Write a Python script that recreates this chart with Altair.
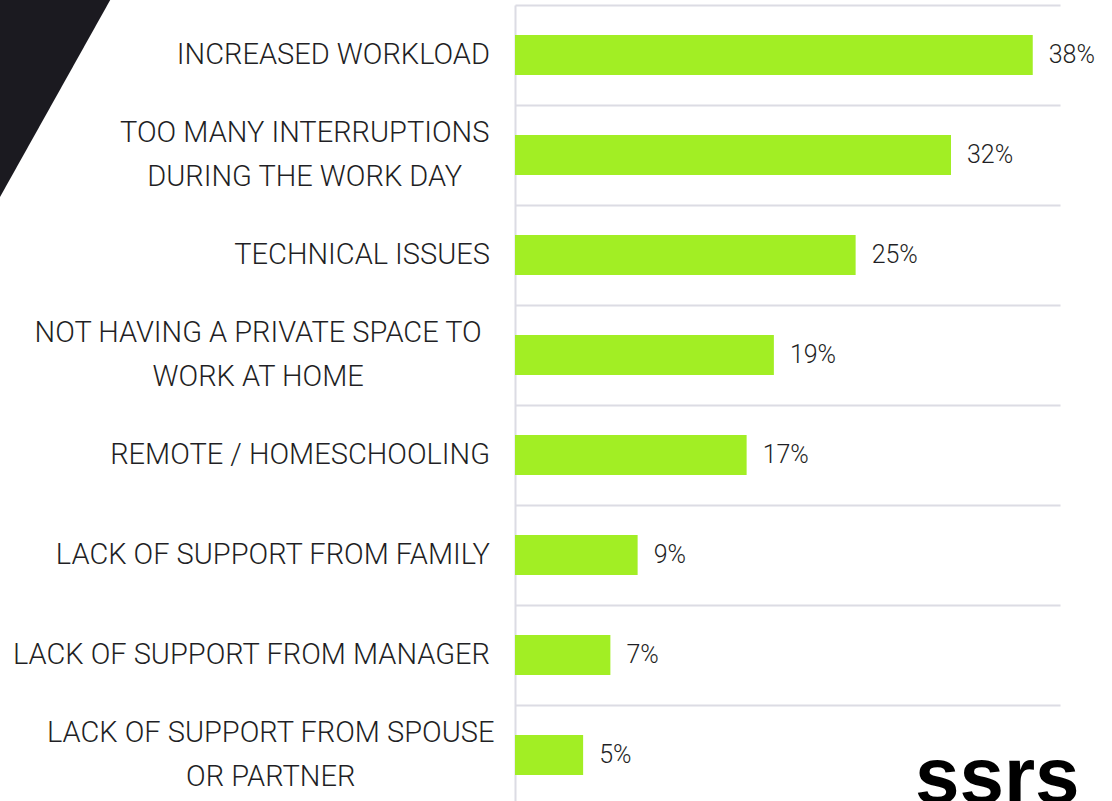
import altair as alt
import pandas as pd

categories = [
    "INCREASED WORKLOAD",
    "TOO MANY INTERRUPTIONS|DURING THE WORK DAY",
    "TECHNICAL ISSUES",
    "NOT HAVING A PRIVATE SPACE TO|WORK AT HOME",
    "REMOTE / HOMESCHOOLING",
    "LACK OF SUPPORT FROM FAMILY",
    "LACK OF SUPPORT FROM MANAGER",
    "LACK OF SUPPORT FROM SPOUSE|OR PARTNER",
]
values = [38, 32, 25, 19, 17, 9, 7, 5]

BAR = "#a2ee24"
TEXT = "#1f1f25"
GRID = "#dcdce4"
FONT = "Roboto"

df = pd.DataFrame({"cat": categories, "value": values})

Y = alt.Y(
    "cat:N",
    sort=categories,
    scale=alt.Scale(paddingInner=0, paddingOuter=0),
    axis=alt.Axis(
        title=None, labels=False, ticks=False, grid=True, tickBand="extent",
        gridColor=GRID, gridWidth=2, domain=True, domainColor=GRID, domainWidth=2,
    ),
)
X = alt.X("value:Q", scale=alt.Scale(domain=[0, 40]), axis=None)

base = alt.Chart(df)

bars = base.mark_bar(color=BAR, height=40).encode(x=X, y=Y)

vals = base.transform_calculate(lbl="datum.value + '%'").mark_text(
    align="left", baseline="middle", dx=16, font=FONT, fontSize=25,
    fontWeight=300, color=TEXT,
).encode(x=X, y=Y, text="lbl:N")

single = base.transform_filter("indexof(datum.cat, '|') < 0").mark_text(
    align="right", baseline="middle", font=FONT, fontSize=29, fontWeight=300,
    color=TEXT,
).encode(y=Y, x=alt.value(-25), text="cat:N")

multi = base.transform_filter("indexof(datum.cat, '|') >= 0").transform_calculate(
    first="split(datum.cat, '|')[0]",
).transform_calculate(
    nsp="length(datum.first) - length(replace(datum.first, regexp(' ', 'g'), ''))",
).transform_calculate(
    cx="-25 - ((length(datum.first) - datum.nsp) * 17.8 + datum.nsp * 7.3) / 2",
).mark_text(
    align="center", baseline="middle", font=FONT, fontSize=29, fontWeight=300,
    color=TEXT, lineBreak="|", lineHeight=44, dy=-22,
).encode(y=Y, x=alt.X("cx:Q", scale=None, axis=None), text="cat:N")

deco = pd.DataFrame({"t": ["ssrs"]})

triangle = alt.Chart(deco).mark_point(
    shape="M0,-5 L113,-5 L0,197 Z", size=4, filled=True, opacity=1,
    color="#1b1a20", strokeWidth=0,
).encode(x=alt.value(-515), y=alt.value(-5))

logo = alt.Chart(deco).mark_text(
    align="left", baseline="alphabetic", font="Liberation Sans",
    fontWeight="bold", fontSize=80, color="#000000",
).encode(x=alt.value(400), y=alt.value(798), text="t:N")

chart = alt.layer(bars, vals, single, multi, triangle, logo).properties(
    width=545, height=800,
    background="white",
    autosize=alt.AutoSizeParams(type="none"),
    padding={"left": 515, "top": 5, "right": 52, "bottom": 0},
).configure_view(stroke=None)

chart.save("out.html", embed_options={"renderer": "svg", "actions": False})
